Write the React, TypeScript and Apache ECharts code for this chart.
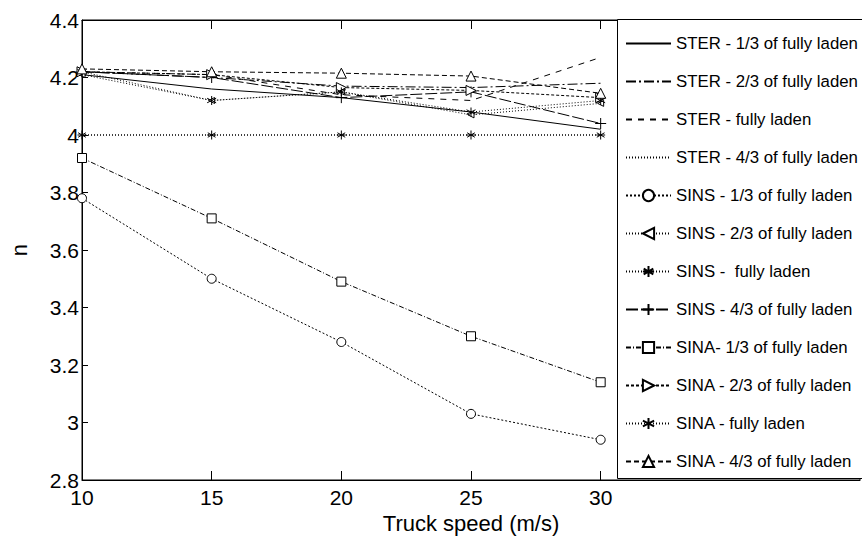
import React, { useEffect, useRef } from "react";
import * as echarts from "echarts";

const speeds = [10, 15, 20, 25, 30];
const seriesNames = [
  "STER - 1/3 of fully laden",
  "STER - 2/3 of fully laden",
  "STER - fully laden",
  "STER - 4/3 of fully laden",
  "SINS - 1/3 of fully laden",
  "SINS - 2/3 of fully laden",
  "SINS -  fully laden",
  "SINS - 4/3 of fully laden",
  "SINA- 1/3 of fully laden",
  "SINA - 2/3 of fully laden",
  "SINA - fully laden",
  "SINA - 4/3 of fully laden",
];
const sterOneThird = [4.21, 4.16, 4.13, 4.08, 4.02];
const sterTwoThird = [4.22, 4.2, 4.17, 4.165, 4.18];
const sterFull = [4.22, 4.21, 4.14, 4.12, 4.27];
const sterFourThird = [4.0, 4.0, 4.0, 4.0, 4.0];
const sinsOneThird = [3.78, 3.5, 3.28, 3.03, 2.94];
const sinsTwoThird = [4.21, 4.12, 4.15, 4.07, 4.11];
const sinsFull = [4.0, 4.0, 4.0, 4.0, 4.0];
const sinsFourThird = [4.22, 4.2, 4.13, 4.15, 4.04];
const sinaOneThird = [3.92, 3.71, 3.49, 3.3, 3.14];
const sinaTwoThird = [4.22, 4.21, 4.165, 4.155, 4.13];
const sinaFull = [4.22, 4.12, 4.15, 4.08, 4.12];
const sinaFourThird = [4.23, 4.22, 4.215, 4.205, 4.145];
const xTickLabels = [10, 15, 20, 25, 30];

const FONT = "'Liberation Sans', Arial, Helvetica, sans-serif";
const PLUS = "path://M0,-5L0,5M-5,0L5,0";
const STAR = "path://M0,-5L0,5M-4.3,-2.5L4.3,2.5M-4.3,2.5L4.3,-2.5M-5,0L5,0";
const STAR6 = "path://M0,-5L0,5M-4.3,-2.5L4.3,2.5M-4.3,2.5L4.3,-2.5";
const NOSYM = "rect";

export default function App() {
  const ref = useRef<HTMLDivElement>(null);
  useEffect(() => {
    if (!ref.current) return;
    const chart = echarts.init(ref.current, null, { renderer: "svg" });
    const mk = (
      name: string,
      vals: number[],
      dash: any,
      symbol: string,
      symbolSize = 9,
      rotate = 0,
      hidden = false
    ) => ({
      name,
      type: "line",
      data: speeds.map((s, i) => [s, vals[i]]),
      symbol,
      symbolSize,
      symbolRotate: rotate,
      showSymbol: !hidden,
      lineStyle: { color: "#000", width: 1, type: dash },
      itemStyle: hidden
        ? { color: "rgba(255,255,255,0)", borderColor: "rgba(255,255,255,0)", borderWidth: 0 }
        : { color: "#fff", borderColor: "#000", borderWidth: 1 },
      emphasis: { disabled: true },
      z: 2,
    });
    const series = [
      mk(seriesNames[0], sterOneThird, "solid", NOSYM, 9, 0, true),
      mk(seriesNames[1], sterTwoThird, [10, 3, 2, 3], NOSYM, 9, 0, true),
      mk(seriesNames[2], sterFull, [6, 6], NOSYM, 9, 0, true),
      mk(seriesNames[3], sterFourThird, [1, 2], NOSYM, 9, 0, true),
      mk(seriesNames[4], sinsOneThird, [2, 2], "circle", 9),
      mk(seriesNames[5], sinsTwoThird, [1, 2], "triangle", 6, 90),
      mk(seriesNames[6], sinsFull, [1, 2], STAR, 9),
      mk(seriesNames[7], sinsFourThird, [12, 3], PLUS, 11),
      mk(seriesNames[8], sinaOneThird, [5, 2, 1, 2], "rect", 9),
      mk(seriesNames[9], sinaTwoThird, [3, 2], "triangle", 10, -90),
      mk(seriesNames[10], sinaFull, [1, 2], STAR6, 9),
      mk(seriesNames[11], sinaFourThird, [5, 3], "triangle", 10),
    ];
    chart.setOption({
      animation: false,
      backgroundColor: "#fff",
      textStyle: { fontFamily: FONT },
      grid: {
        left: 74,
        right: 2,
        top: 20,
        bottom: 61,
        show: true,
        borderColor: "#000",
        borderWidth: 1,
      },
      xAxis: [
        {
          type: "value",
          min: 10,
          max: 40,
          interval: 5,
          position: "bottom",
          name: "Truck speed (m/s)",
          nameLocation: "middle",
          nameGap: 31,
          nameTextStyle: { fontSize: 22, color: "#000", fontFamily: FONT },
          axisLine: { show: true, lineStyle: { color: "#000" } },
          axisTick: {
            show: true,
            inside: true,
            length: 9,
            customValues: xTickLabels,
            lineStyle: { color: "#000" },
          },
          axisLabel: {
            fontSize: 21,
            color: "#000",
            margin: 7,
            fontFamily: FONT,
            customValues: xTickLabels,
            formatter: (v: number) => (v <= 30 ? String(v) : ""),
          },
          splitLine: { show: false },
        },
        {
          type: "value",
          min: 10,
          max: 40,
          interval: 5,
          position: "top",
          axisLine: { show: true, lineStyle: { color: "#000" } },
          axisTick: {
            show: true,
            inside: true,
            length: 9,
            customValues: xTickLabels,
            lineStyle: { color: "#000" },
          },
          axisLabel: { show: false },
          splitLine: { show: false },
        },
      ],
      yAxis: {
        type: "value",
        min: 2.8,
        max: 4.4,
        interval: 0.2,
        name: "n",
        nameLocation: "middle",
        nameGap: 52,
        nameTextStyle: { fontSize: 22, color: "#000", fontFamily: FONT },
        axisLine: { show: true, lineStyle: { color: "#000" } },
        axisTick: { show: true, inside: true, length: 6, lineStyle: { color: "#000" } },
        axisLabel: {
          fontSize: 21,
          color: "#000",
          margin: 3,
          fontFamily: FONT,
          formatter: (v: number) => String(Math.round(v * 10) / 10),
        },
        splitLine: { show: false },
      },
      legend: {
        orient: "vertical",
        left: 625,
        top: 35,
        padding: 0,
        itemWidth: 45,
        itemHeight: 14,
        itemGap: 21,
        selectedMode: false,
        data: seriesNames,
        textStyle: { fontSize: 16.8, color: "#000", fontFamily: FONT, lineHeight: 14 },
        z: 5,
      },
      graphic: [
        {
          type: "rect",
          z: 3,
          shape: { x: 617.5, y: 19.5, width: 270, height: 459 },
          style: { fill: "#fff", stroke: "#000", lineWidth: 1 },
        },
      ],
      series,
    });
    return () => chart.dispose();
  }, []);
  return (
    <div
      ref={ref}
      style={{ position: "absolute", left: 0, top: 0, width: 862, height: 541 }}
    />
  );
}
